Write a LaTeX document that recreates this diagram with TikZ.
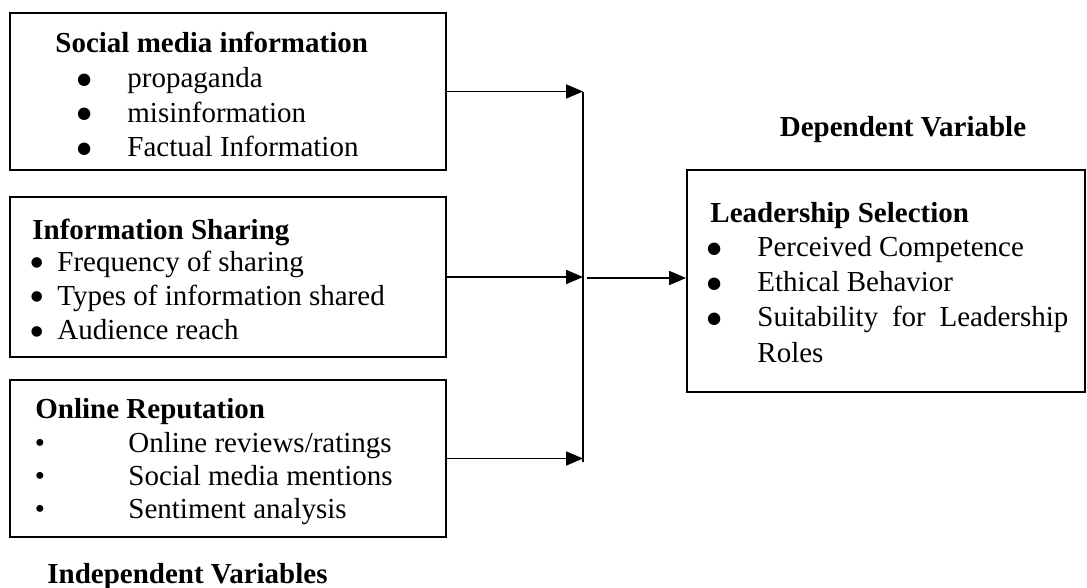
\documentclass[tikz,border=0pt]{standalone}
\usepackage{fontspec}
\setmainfont{Liberation Serif}
\usetikzlibrary{positioning, arrows.meta, calc}

\newcommand\varfont{\fontsize{14.5}{17}\selectfont}
% heavy list bullet: #1 = size, #2 = drop below the usual height
\newcommand\bigbullet[2]{\raisebox{-#2}[0pt][0pt]{\fontsize{#1}{#1}\selectfont\textbullet}}

\tikzset{
  varbox/.style={draw, line width=0.9pt, inner sep=0pt},
  head/.style={anchor=base west, inner sep=0pt, font=\varfont\bfseries},
  caption/.style={inner sep=0pt, font=\varfont\bfseries},
  entry/.style={anchor=base west, inner sep=0pt, font=\varfont},
  dot/.style={anchor=base, inner sep=0pt, font=\varfont},
  feed/.style={line width=0.9pt, -{Triangle[length=8.5pt,width=7pt]}},
}

\begin{document}
\begin{tikzpicture}[x=0.5pt, y=-0.5pt]
\useasboundingbox (0,0) rectangle (1087,588);

% independent variable boxes
\node[varbox, minimum width=218pt, minimum height=78.5pt] (social) at (228,91.5) {};
\node[varbox, minimum width=218pt, minimum height=80pt] (sharing) at (228,277) {};
\node[varbox, minimum width=218pt, minimum height=78.5pt] (reput) at (228,458.5) {};

% dependent variable box
\node[varbox, minimum width=199pt, minimum height=111pt] (lead) at (886,281) {};

% social media information
\node[head] (socialhead) at (55,53) {Social media information};
\foreach \y/\txt [count=\i] in {88/propaganda, 122.5/misinformation, 157/Factual Information} {
  \node[dot] (socialdot\i) at (85,\y) {\bigbullet{26}{4.6pt}};
  \node[entry] (socialitem\i) at (127,\y) {\txt};
}

% information sharing
\node[head] (sharinghead) at (32,240) {Information Sharing};
\foreach \y/\txt [count=\i] in {271/Frequency of sharing, 305.5/Types of information shared, 340/Audience reach} {
  \node[dot] (sharingdot\i) at (37,\y) {\bigbullet{22}{3pt}};
  \node[entry] (sharingitem\i) at (57,\y) {\txt};
}

% online reputation
\node[head] (reputhead) at (35,418) {Online Reputation};
\foreach \y/\txt [count=\i] in {452/{Online reviews/ratings}, 485/Social media mentions, 518/Sentiment analysis} {
  \node[dot] (reputdot\i) at (40,\y) {\textbullet};
  \node[entry] (reputitem\i) at (128,\y) {\txt};
}

% leadership selection
\node[head] (leadhead) at (710,223) {Leadership Selection};
\foreach \y [count=\i] in {257, 292, 327} {
  \node[dot] (leaddot\i) at (715,\y) {\bigbullet{26}{4.6pt}};
}
\node[entry] (leaditem1) at (757,257) {Perceived Competence};
\node[entry] (leaditem2) at (757,292) {Ethical Behavior};
\node[entry] (leaditem3) at (757,327) {\makebox[155.5pt][s]{Suitability for Leadership}};
\node[entry] (leaditem4) at (757,363) {Roles};

% group captions
\node[caption, anchor=base] (deplabel) at (903,137) {Dependent Variable};
\node[caption, anchor=base west] (indeplabel) at (47,583) {Independent Variables};

% connectors
\coordinate (bustop) at (583,92.5);
\coordinate (busbot) at (583,462);
\coordinate (join) at (587,278);
\draw[line width=0.9pt] (bustop) -- (busbot);
\draw[feed] (social.east) -- (social.east -| bustop);
\draw[feed] (sharing.east) -- (sharing.east -| bustop);
\draw[feed] (reput.east) -- (reput.east -| bustop);
\draw[feed] (join) -- (lead.west |- join);
\end{tikzpicture}
\end{document}
